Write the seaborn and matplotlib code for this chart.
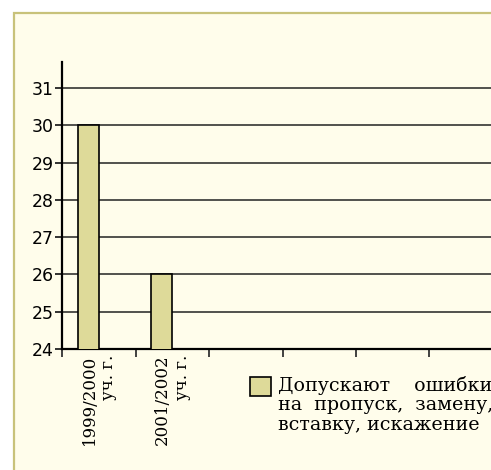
import matplotlib
matplotlib.use("Agg")
import matplotlib.pyplot as plt
import matplotlib.patches as mpatches
import seaborn as sns
import pandas as pd

years = ["1999/2000\nуч. г.", "2001/2002\nуч. г."]
values = [30, 26]
series_label = "Допускают    ошибки\nна  пропуск,  замену,\nвставку, искажение"
yticks = [24, 25, 26, 27, 28, 29, 30, 31]

df = pd.DataFrame({"year": years, "value": values})

sns.set_style("white")
cream = "#FFFDEB"
bar_color = "#DEDA99"

fig = plt.figure(figsize=(4.91, 4.70), dpi=100)
fig.patch.set_facecolor("white")
frame = mpatches.Rectangle((14 / 491, -0.2), 1.2, 1.2 - 13 / 470,
                           transform=fig.transFigure, facecolor=cream,
                           edgecolor="#C8C27A", linewidth=1.6, zorder=-1)
fig.patches.append(frame)

ax = fig.add_axes([62 / 491, 121 / 470, 441 / 491, 287 / 470])
ax.patch.set_alpha(0)

sns.barplot(data=df, x="year", y="value", color=bar_color, width=0.286,
            edgecolor="black", linewidth=1.2, saturation=1,
            label=series_label, ax=ax, zorder=3)

ax.set_ylim(24, 31.7)
ax.set_xlim(-0.36, 5.64)
ax.set_yticks(yticks)
ax.set_yticklabels([str(v) for v in yticks], fontsize=12.5, family="DejaVu Sans",
                   color="black")
for v in yticks[1:]:
    ax.axhline(v, color="#222222", linewidth=1.1, zorder=1)

# category boundaries as major ticks, labels centered between them
ax.set_xticks([-0.36 + k for k in range(7)])
ax.set_xticklabels([])
ax.set_xticks([0.14, 1.14], minor=True)
ax.set_xticklabels(years, minor=True, rotation=90, fontsize=12,
                   family="DejaVu Serif", va="top", ha="center",
                   multialignment="right", color="black")
ax.tick_params(axis="x", which="minor", bottom=False, length=0, pad=4)
ax.tick_params(axis="x", which="major", bottom=True, direction="out",
               length=6, width=1.3, color="#333333")
ax.tick_params(axis="y", left=True, direction="out", length=5, width=1.3,
               pad=1, color="#222222")
ax.set_xlabel("")
ax.set_ylabel("")

for side in ["top", "right"]:
    ax.spines[side].set_visible(False)
for side in ["left", "bottom"]:
    ax.spines[side].set_color("black")
    ax.spines[side].set_linewidth(1.6)

leg = ax.legend(loc="upper left", bbox_to_anchor=(250 / 491, 1 - 376 / 470),
                bbox_transform=fig.transFigure, frameon=False,
                prop={"family": "DejaVu Serif", "size": 13.7},
                handlelength=1.12, handleheight=1.12, handletextpad=0.33,
                borderaxespad=0, borderpad=0, labelspacing=0)
leg.set_zorder(5)
for t in leg.get_texts():
    t.set_color("black")
    t.set_linespacing(1.1)
# keep the swatch level with the first line of the label
h = leg.legend_handles[0]
h.set_y(h.get_y() + 13.5)

fig.savefig("out.png", dpi=100, facecolor=fig.get_facecolor())
